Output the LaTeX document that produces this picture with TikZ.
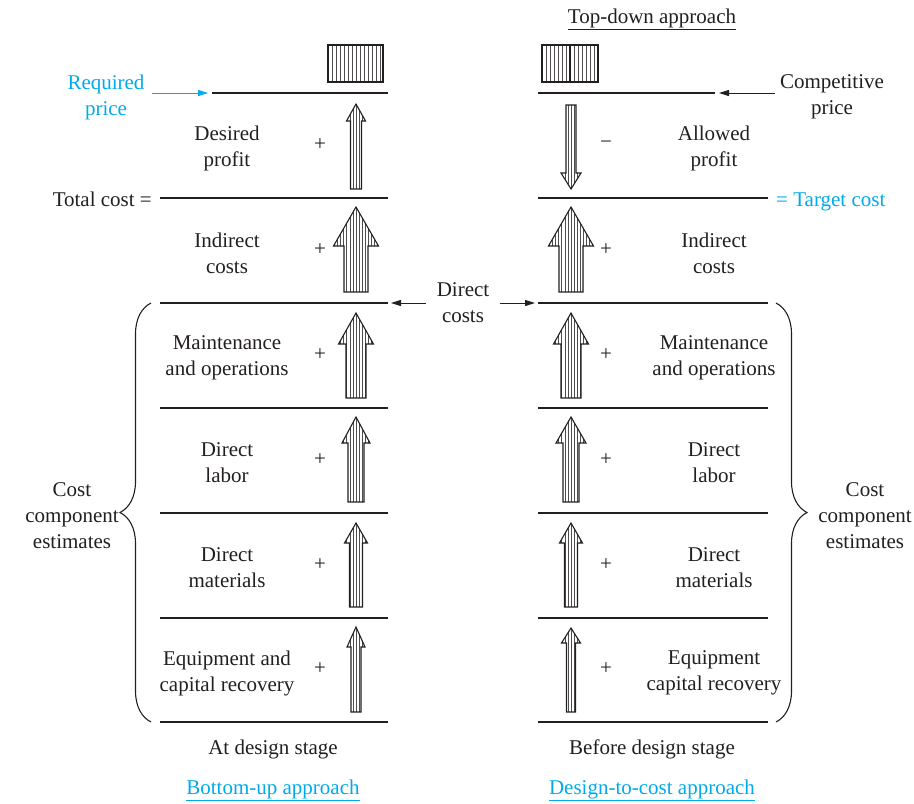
\documentclass[tikz,border=0pt]{standalone}
\usepackage{fontspec}
\setmainfont{Liberation Serif}
\usetikzlibrary{arrows.meta,decorations.pathreplacing}
\definecolor{skyb}{RGB}{0,170,235}
\definecolor{ink}{RGB}{35,31,32}
\tikzset{
  txt/.style={font=\fontsize{21}{26}\selectfont, text=ink, align=center, inner sep=0pt},
  bluetxt/.style={txt, text=skyb},
  thinline/.style={draw=ink, line width=1.4pt},
  thickline/.style={draw=ink, line width=2.8pt},
  hatch/.style={draw=ink!80, line width=0.55pt},
  arrowoutline/.style={draw=ink, line width=1.1pt, line join=miter},
  conn/.style={draw=ink, line width=1pt, -{Stealth[length=10pt,width=6pt,inset=0pt]}},
  bconn/.style={draw=skyb, line width=1pt, -{Stealth[length=10pt,width=6pt,inset=0pt]}},
  bracestyle/.style={draw=ink, line width=1.1pt, decorate, decoration={brace, amplitude=31pt, aspect=0.5}}
}
% cx, tip y, head base y, tail y, head half width, shaft half width
\newcommand{\fatarrow}[6]{%
  \begin{scope}
    \path[clip] (#1-#6,#4) -- (#1-#6,#3) -- (#1-#5,#3) -- (#1,#2) -- (#1+#5,#3) -- (#1+#6,#3) -- (#1+#6,#4) -- cycle;
    \foreach \k in {-8,...,8} \draw[hatch] (#1+3.1*\k,#2) -- (#1+3.1*\k,#4);
  \end{scope}
  \draw[arrowoutline] (#1-#6,#4) -- (#1-#6,#3) -- (#1-#5,#3) -- (#1,#2) -- (#1+#5,#3) -- (#1+#6,#3) -- (#1+#6,#4) -- cycle;
}
\begin{document}
\begin{tikzpicture}[x=1pt,y=-1pt]
\useasboundingbox (0,0) rectangle (914,804);

% ---------- hatched boxes ----------
\begin{scope}
  \foreach \xx in {332,336,...,380} \draw[hatch, line width=0.8pt] (\xx,45) -- (\xx,82);
  \draw[draw=ink, line width=1.1pt] (328,45) rectangle (383,82);
  \foreach \xx in {546,550,...,596} \draw[hatch, line width=0.8pt] (\xx,45) -- (\xx,82);
  \draw[draw=ink, line width=1.8pt] (570,45) -- (570,82);
  \draw[draw=ink, line width=1.1pt] (542,45) rectangle (598,82);
\end{scope}

% ---------- horizontal lines ----------
\draw[thickline] (212,93) -- (388,93);
\draw[thickline] (160,198) -- (388,198);
\foreach \yy in {303,408,513,618,722} \draw[thinline] (160,\yy) -- (388,\yy);
\draw[thinline] (538,93) -- (715,93);
\draw[thickline] (538,198) -- (768,198);
\foreach \yy in {303,408,513,618,722} \draw[thinline] (538,\yy) -- (768,\yy);

% ---------- fat arrows (left) ----------
\fatarrow{356}{104}{121}{189}{9.5}{5.5}
\fatarrow{356}{207}{246}{292}{22.5}{12}
\fatarrow{356}{313}{344}{398}{17.5}{10}
\fatarrow{356}{417}{443}{502}{14}{8}
\fatarrow{356}{523}{543}{607}{11.5}{6.5}
\fatarrow{356}{627}{647}{712}{9}{5}
% ---------- fat arrows (right) ----------
\fatarrow{571}{189}{173}{105}{10}{5}
\fatarrow{571}{207}{246}{292}{22.5}{12}
\fatarrow{571}{313}{344}{398}{17.5}{10}
\fatarrow{571}{417}{443}{502}{15}{8}
\fatarrow{571}{523}{543}{607}{11.5}{6.5}
\fatarrow{571}{628}{643}{712}{9.5}{4.5}

% ---------- texts (left) ----------
\node[txt] (desired) at (227,148) {Desired\\profit};
\node[txt] (indl) at (227,253) {Indirect\\costs};
\node[txt] (maintl) at (227,358) {Maintenance\\and operations};
\node[txt] (labl) at (227,463) {Direct\\labor};
\node[txt] (matl) at (227,568) {Direct\\materials};
\node[txt] (equl) at (227,673) {Equipment and\\capital recovery};
\foreach \yy/\nm in {145/p1,250/p2,355/p3,460/p4,565/p5,669/p6}
  \node[txt] (l\nm) at (320,\yy) {+};

% ---------- texts (right) ----------
\node[txt] (allowed) at (714,148) {Allowed\\profit};
\node[txt] (indr) at (714,253) {Indirect\\costs};
\node[txt] (maintr) at (714,358) {Maintenance\\and operations};
\node[txt] (labr) at (714,463) {Direct\\labor};
\node[txt] (matr) at (714,568) {Direct\\materials};
\node[txt] (equr) at (714,673) {Equipment\\capital recovery};
\node[txt] (rminus) at (606,145) {−};
\foreach \yy/\nm in {250/p2,355/p3,460/p4,565/p5,669/p6}
  \node[txt] (r\nm) at (606,\yy) {+};

% ---------- side labels ----------
\node[bluetxt] (reqp) at (106,97) {Required\\price};
\node[txt] (compp) at (832,97) {Competitive\\price};
\node[txt, anchor=base east] (total) at (152,206) {Total cost =};
\node[bluetxt, anchor=base west] (target) at (776,206) {= Target cost};
\node[txt] (direct) at (463,303) {Direct\\costs};
\node[txt] (ccl) at (72,516) {Cost\\component\\estimates};
\node[txt] (ccr) at (865,516) {Cost\\component\\estimates};

% ---------- captions ----------
\node[txt, anchor=base] (topdown) at (652,23) {\underline{Top-down approach}};
\node[txt, anchor=base] (atdesign) at (273,754) {At design stage};
\node[txt, anchor=base] (befdesign) at (652,754) {Before design stage};
\node[bluetxt, anchor=base] (bottomup) at (273,794) {\underline{Bottom-up approach}};
\node[bluetxt, anchor=base] (d2c) at (652,794) {\underline{Design-to-cost approach}};

% ---------- connectors ----------
\coordinate (rpA) at (152,93);
\coordinate (rpB) at (208,93);
\draw[bconn] (rpA) -- (rpB);
\coordinate (cpA) at (775,93);
\coordinate (cpB) at (719,93);
\draw[conn] (cpA) -- (cpB);
\coordinate (dlA) at (426,303);
\coordinate (dlB) at (391,303);
\coordinate (drA) at (500,303);
\coordinate (drB) at (535,303);
\draw[conn] (dlA) -- (dlB);
\draw[conn] (drA) -- (drB);

% ---------- braces ----------
\coordinate (blA) at (151,722);
\coordinate (blB) at (151,303);
\draw[bracestyle] (blA) -- (blB);
\coordinate (brA) at (776,303);
\coordinate (brB) at (776,722);
\draw[bracestyle] (brA) -- (brB);
\end{tikzpicture}
\end{document}
